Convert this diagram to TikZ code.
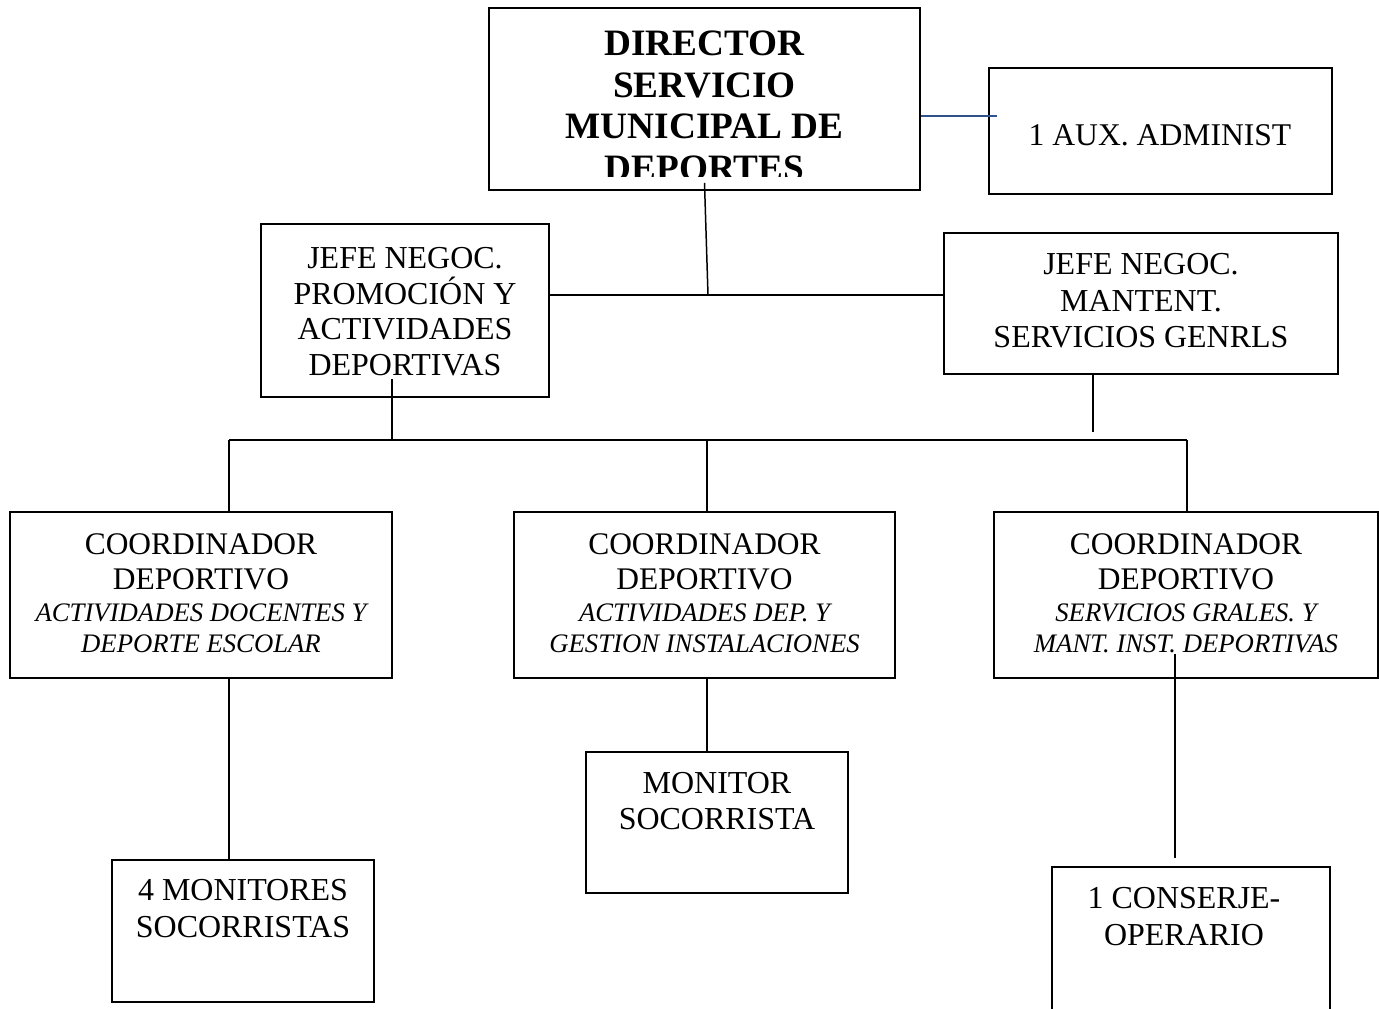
\documentclass[tikz,border=0pt]{standalone}
\usepackage{fontspec}
\setmainfont{Liberation Serif}
\usetikzlibrary{calc}
\definecolor{linkblue}{RGB}{47,82,143}
\newcommand{\subtxt}{\fontsize{15.2}{17.5}\selectfont\itshape}
\begin{document}
\begin{tikzpicture}[x=0.02cm, y=-0.02cm,
    box/.style={draw, line width=1.1pt, inner sep=0pt},
    txt/.style={align=center, inner sep=0pt, font=\fontsize{18.2}{20.7}\selectfont},
    conn/.style={line width=0.85pt},
    bus/.style={line width=1.3pt}]
  \useasboundingbox (0,0) rectangle (1379,1008);
  % boxes
  \node[box, minimum width=8.62cm, minimum height=3.64cm] (dir) at (704.5,99) {};
  \node[box, minimum width=6.86cm, minimum height=2.52cm] (aux) at (1160.5,131) {};
  \node[box, minimum width=5.76cm, minimum height=3.46cm] (jefeA) at (405,310.5) {};
  \node[box, minimum width=7.88cm, minimum height=2.82cm] (jefeB) at (1141,303.5) {};
  \node[box, minimum width=7.64cm, minimum height=3.32cm] (coordA) at (201,595) {};
  \node[box, minimum width=7.62cm, minimum height=3.32cm] (coordB) at (704.5,595) {};
  \node[box, minimum width=7.68cm, minimum height=3.32cm] (coordC) at (1186,595) {};
  \node[box, minimum width=5.24cm, minimum height=2.84cm] (mon4) at (243,931) {};
  \node[box, minimum width=5.24cm, minimum height=2.82cm] (mon1) at (717,822.5) {};
  \node[box, minimum width=5.56cm, minimum height=2.96cm] (cons) at (1191,941) {};
  % texts
  \begin{scope}
    \clip (dir.north west) rectangle ([yshift=0.28cm]dir.south east);
    \node[txt, font=\fontsize{21.2}{23.6}\selectfont\bfseries] (dirtxt) at (704.5,106)
      {DIRECTOR\\SERVICIO\\MUNICIPAL DE\\DEPORTES};
  \end{scope}
  \node[txt, font=\fontsize{18}{20.7}\selectfont] (auxtxt) at (1160,135) {1 AUX. ADMINIST};
  \node[txt, font=\fontsize{18.2}{20.3}\selectfont] (jefeAtxt) at (405,311.5)
    {JEFE NEGOC.\\PROMOCIÓN Y\\ACTIVIDADES\\DEPORTIVAS};
  \node[txt] (jefeBtxt) at (1141,301) {JEFE NEGOC.\\MANTENT.\\SERVICIOS GENRLS};
  \node[txt, font=\fontsize{17.9}{20}\selectfont] (coordAtxt) at (201,593)
    {COORDINADOR\\DEPORTIVO\\[-1.7pt]{\subtxt ACTIVIDADES DOCENTES Y}\\[-2.5pt]{\subtxt DEPORTE ESCOLAR}};
  \node[txt, font=\fontsize{17.9}{20}\selectfont] (coordBtxt) at (704.5,593)
    {COORDINADOR\\DEPORTIVO\\[-1.7pt]{\subtxt ACTIVIDADES DEP. Y}\\[-2.5pt]{\subtxt GESTION INSTALACIONES}};
  \node[txt, font=\fontsize{17.9}{20}\selectfont] (coordCtxt) at (1186,593)
    {COORDINADOR\\DEPORTIVO\\[-1.7pt]{\subtxt SERVICIOS GRALES. Y}\\[-2.5pt]{\subtxt MANT. INST. DEPORTIVAS}};
  \node[txt] (mon4txt) at (243,908.5) {4 MONITORES\\SOCORRISTAS};
  \node[txt] (mon1txt) at (717,801) {MONITOR\\SOCORRISTA};
  \node[txt] (constxt) at (1184,916.5) {1 CONSERJE-\\OPERARIO};
  % connectors
  \coordinate (j1) at (708,295);
  \coordinate (j2) at (392,440);
  \coordinate (j3) at (1093,432);
  \coordinate (bA) at (229,440);
  \coordinate (bB) at (707,440);
  \coordinate (bC) at (1187,440);
  \coordinate (c1) at (1175,858);
  \coordinate (a1) at (997,116);
  \draw[conn] ($(dir.south)+(0,-8)$) -- (j1);
  \draw[bus] (jefeA.east |- j1) -- (jefeB.west |- j1);
  \draw[conn] ($(j2 |- jefeA.south)+(0,-19)$) -- (j2);
  \draw[conn] (j3 |- jefeB.south) -- (j3);
  \draw[bus] (bA) -- (bC);
  \foreach \b/\c in {bA/coordA, bB/coordB, bC/coordC}
    \draw[conn] (\b) -- (\b |- \c.north);
  \draw[conn] (bA |- coordA.south) -- (bA |- mon4.north);
  \draw[conn] (bB |- coordB.south) -- (bB |- mon1.north);
  \draw[conn] ($(c1 |- coordC.south)+(0,-25)$) -- (c1);
  \draw[conn, linkblue] (dir.east |- a1) -- (a1);
\end{tikzpicture}
\end{document}
